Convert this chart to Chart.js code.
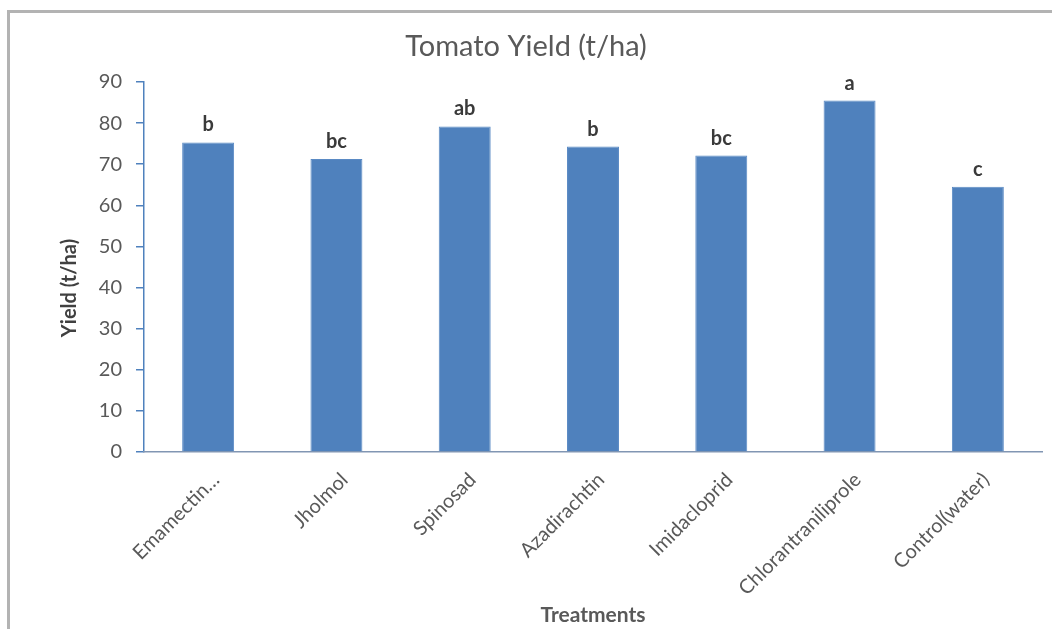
<!DOCTYPE html>
<html>
<head>
<meta charset="utf-8">
<title>Tomato Yield</title>
<script src="https://cdn.jsdelivr.net/npm/chart.js@4.4.1/dist/chart.umd.min.js"></script>
<style>
    html, body { margin: 0; padding: 0; background: #fff; overflow: hidden; }
    #wrap { position: relative; width: 1052px; height: 629px; }
    #frame {
        position: absolute; left: 7px; top: 10px; width: 1100px; height: 700px;
        border-left: 3px solid #b3b3b3; border-top: 3px solid #b3b3b3;
        pointer-events: none;
    }
    canvas { position: absolute; left: 0; top: 0; }
</style>
</head>
<body>
<div id="wrap">
    <canvas id="myChart" width="1052" height="629"></canvas>
    <div id="frame"></div>
</div>
<script>
const treatments = ['Emamectin…', 'Jholmol', 'Spinosad', 'Azadirachtin', 'Imidacloprid', 'Chlorantraniliprole', 'Control(water)'];
const yieldValues = [75.3, 71.3, 79.2, 74.3, 72.1, 85.5, 64.5];
const letters = ['b', 'bc', 'ab', 'b', 'bc', 'a', 'c'];
const yTicks = [0, 10, 20, 30, 40, 50, 60, 70, 80, 90];
const yTitle = 'Yield (t/ha)';

const fontFamily = 'Lato, "Open Sans", sans-serif';

// letras de significância acima das barras + título do eixo Y
const letterPlugin = {
    id: 'letters',
    afterDatasetsDraw(chart) {
        const ctx = chart.ctx;
        const meta = chart.getDatasetMeta(0);
        ctx.save();
        ctx.font = `bold 20px ${fontFamily}`;
        ctx.fillStyle = '#3a3a3a';
        ctx.textAlign = 'center';
        ctx.textBaseline = 'alphabetic';
        meta.data.forEach((bar, i) => {
            ctx.fillText(letters[i], bar.x, bar.y - 11);
        });

        // título do eixo Y, um pouco abaixo do centro como no original
        ctx.fillStyle = '#404040';
        ctx.translate(70, 288);
        ctx.rotate(-Math.PI / 2);
        ctx.font = `bold 20px ${fontFamily}`;
        ctx.textBaseline = 'middle';
        ctx.fillText(yTitle, 0, 0);
        ctx.restore();
    }
};

new Chart(document.getElementById('myChart'), {
    type: 'bar',
    data: {
        labels: treatments,
        datasets: [{
            data: yieldValues,
            backgroundColor: '#4f81bd',
            borderColor: '#5a8ac4',
            borderWidth: 1,
            categoryPercentage: 1,
            barPercentage: 0.405
        }]
    },
    options: {
        responsive: false,
        animation: false,
        layout: { padding: { left: 10, right: 10, top: 20, bottom: 0 } },
        plugins: {
            legend: { display: false },
            tooltip: { enabled: false },
            title: {
                display: true,
                text: 'Tomato Yield (t/ha)',
                color: '#595959',
                font: { family: fontFamily, size: 29, weight: 'normal' },
                padding: { top: 9, bottom: 18.2 }
            }
        },
        scales: {
            y: {
                min: 0,
                max: 90,
                afterBuildTicks: (scale) => { scale.ticks = yTicks.map(v => ({ value: v })); },
                afterFit: (scale) => { scale.width = 134; },
                border: { display: true, color: '#4f81bd', width: 1.5 },
                grid: { display: true, drawOnChartArea: false, tickLength: 8, color: '#4f81bd', lineWidth: 1.5 },
                ticks: { color: '#595959', padding: 14, font: { family: fontFamily, size: 20 } }
            },
            x: {
                afterFit: (scale) => { scale.height = 177; },
                border: { display: true, color: '#8196b3', width: 1.5 },
                grid: { display: false },
                ticks: {
                    color: '#595959',
                    minRotation: 45,
                    maxRotation: 45,
                    autoSkip: false,
                    padding: 8,
                    labelOffset: 8,
                    font: { family: fontFamily, size: 20 }
                },
                title: {
                    display: true,
                    text: 'Treatments',
                    color: '#595959',
                    font: { family: fontFamily, size: 21, weight: 'bold' },
                    padding: { top: 0, bottom: 1.4 }
                }
            }
        }
    },
    plugins: [letterPlugin]
});
</script>
</body>
</html>
